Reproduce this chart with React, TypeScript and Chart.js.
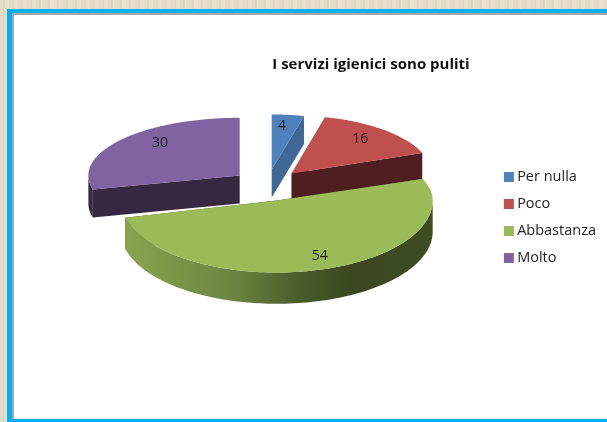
import React, { useEffect, useRef } from "react";
import { Chart, registerables } from "chart.js";

Chart.register(...registerables);

const categories = ["Per nulla", "Poco", "Abbastanza", "Molto"];
const values = [4, 16, 54, 30];
const chartTitle = "I servizi igienici sono puliti";

const topColors = ["#4f81bd", "#c0504d", "#9bbb59", "#8064a2"];
const faceColors = ["#3f6797", "#4f1f1f", "#3f4d23", "#352840"];
const drawOrder = [3, 0, 1, 2];
const FONT = "'Open Sans', sans-serif";

// per-slice look of the tilted, exploded pie, all relative to the arc the library computed
const sliceLook = [
  { dx: -3, dy: -31, rx: 0.865, ryBack: 0.353, ryFront: 0.353, depth: 0.18, labelX: 0.63, labelY: 0.79 },
  { dx: 17, dy: -27, rx: 0.895, ryBack: 0.372, ryFront: 0.372, depth: 0.167, labelX: 0.74, labelY: 0.8 },
  { dx: 2, dy: 0, rx: 1.0, ryBack: 0.39, ryFront: 0.462, depth: 0.2, labelX: 0.93, labelY: 0.8 },
  { dx: -35, dy: -25, rx: 0.97, ryBack: 0.37, ryFront: 0.372, depth: 0.18, labelX: 0.67, labelY: 0.91 },
];

const rimStops: [number, string][] = [
  [0, "#8ba650"],
  [0.36, "#6a8540"],
  [0.575, "#4a5c2a"],
  [0.74, "#3a4720"],
  [1, "#3f4d23"],
];

const tiltedPie = {
  id: "tiltedPie",
  afterLayout(chart: any) {
    chart.titleBlock.left += 41;
    chart.titleBlock.right += 41;
    chart.legend.top += 60;
    chart.legend.bottom += 60;
    chart.legend.left -= 1;
    chart.legend.right -= 1;
  },
  beforeDatasetDraw(chart: any) {
    const ctx = chart.ctx as CanvasRenderingContext2D;
    const arcs = chart.getDatasetMeta(0).data;
    for (const i of drawOrder) {
      const arc = arcs[i];
      const s = sliceLook[i];
      const R = arc.outerRadius;
      const cx = arc.x + s.dx;
      const cy = arc.y + s.dy;
      const depth = s.depth * R;
      const pt = (a: number): [number, number] => {
        const sn = Math.sin(a);
        return [cx + s.rx * R * Math.cos(a), cy + (sn > 0 ? s.ryFront : s.ryBack) * R * sn];
      };
      const steps = 120;
      const outer: [number, number][] = [];
      for (let k = 0; k <= steps; k++) {
        outer.push(pt(arc.startAngle + ((arc.endAngle - arc.startAngle) * k) / steps));
      }
      // radial cut faces
      ctx.fillStyle = faceColors[i];
      for (const p of [outer[0], outer[steps]]) {
        ctx.beginPath();
        ctx.moveTo(cx, cy);
        ctx.lineTo(p[0], p[1]);
        ctx.lineTo(p[0], p[1] + depth);
        ctx.lineTo(cx, cy + depth);
        ctx.closePath();
        ctx.fill();
      }
      // outer rim (front half only)
      const front = outer.filter((_, k) => {
        const a = arc.startAngle + ((arc.endAngle - arc.startAngle) * k) / steps;
        return Math.sin(a) >= 0;
      });
      if (front.length > 1) {
        if (i === 2) {
          const g = ctx.createLinearGradient(cx - s.rx * R, 0, cx + s.rx * R, 0);
          rimStops.forEach(([o, c]) => g.addColorStop(o, c));
          ctx.fillStyle = g;
        } else {
          ctx.fillStyle = faceColors[i];
        }
        ctx.beginPath();
        front.forEach((p, k) => (k ? ctx.lineTo(p[0], p[1]) : ctx.moveTo(p[0], p[1])));
        for (let k = front.length - 1; k >= 0; k--) ctx.lineTo(front[k][0], front[k][1] + depth);
        ctx.closePath();
        ctx.fill();
      }
      // top surface
      ctx.fillStyle = topColors[i];
      ctx.beginPath();
      ctx.moveTo(cx, cy);
      outer.forEach((p) => ctx.lineTo(p[0], p[1]));
      ctx.closePath();
      ctx.fill();
    }
    // value labels
    ctx.fillStyle = "#222222";
    ctx.font = `14px ${FONT}`;
    ctx.textAlign = "center";
    ctx.textBaseline = "middle";
    arcs.forEach((arc: any, i: number) => {
      const s = sliceLook[i];
      const a = (arc.startAngle + arc.endAngle) / 2;
      const R = arc.outerRadius;
      const sn = Math.sin(a);
      const x = arc.x + s.dx + s.labelX * s.rx * R * Math.cos(a);
      const y = arc.y + s.dy + s.labelY * (sn > 0 ? s.ryFront : s.ryBack) * R * sn;
      ctx.fillText(String(values[i]), x, y);
    });
    return false;
  },
};

export default function App() {
  const ref = useRef<HTMLCanvasElement>(null);
  useEffect(() => {
    const chart = new Chart(ref.current as HTMLCanvasElement, {
      type: "pie",
      data: {
        labels: categories,
        datasets: [{ data: values, backgroundColor: topColors, borderWidth: 0, hoverOffset: 0 }],
      },
      plugins: [tiltedPie],
      options: {
        animation: false,
        responsive: false,
        radius: 156,
        layout: { padding: { left: 53, right: 0, top: 0, bottom: 107 } },
        plugins: {
          tooltip: { enabled: false },
          title: {
            display: true,
            text: chartTitle,
            color: "#111111",
            font: { family: FONT, size: 15, weight: "bold" },
            padding: { top: 56, bottom: 12 },
          },
          legend: {
            position: "right",
            labels: {
              boxWidth: 2,
              boxHeight: 2,
              padding: 12.5,
              color: "#222222",
              font: { family: FONT, size: 14.5 },
              generateLabels: (c: any) =>
                c.data.labels.map((text: string, i: number) => ({
                  text,
                  index: i,
                  fillStyle: topColors[i],
                  strokeStyle: topColors[i],
                  lineWidth: 8,
                  fontColor: "#222222",
                })),
            },
          },
        },
      } as any,
    });
    return () => chart.destroy();
  }, []);
  return (
    <div
      style={{
        position: "fixed",
        left: 0,
        top: 0,
        width: 607,
        height: 422,
        overflow: "hidden",
        background: "repeating-linear-gradient(90deg, #e5dbc7 0 3px, #dfd5c0 3px 5px, #e9e0cd 5px 9px)",
      }}
    >
      <div
        style={{
          position: "absolute",
          left: 7,
          top: 9,
          width: 640,
          height: 413,
          boxSizing: "border-box",
          background: "#ffffff",
          borderLeft: "5px solid #00b0f0",
          borderTop: "4.5px solid #00b0f0",
          borderBottom: "3px solid #00b0f0",
        }}
      >
        <div style={{ position: "absolute", left: 0, top: 0, width: 1.5, height: "100%", background: "#a6a6a6" }} />
        <div style={{ position: "absolute", left: 0, top: 0, width: "100%", height: 1.5, background: "#a6a6a6" }} />
      </div>
      <canvas ref={ref} width={607} height={422} style={{ position: "absolute", left: 0, top: 0, filter: "blur(0.4px)" }} />
    </div>
  );
}
